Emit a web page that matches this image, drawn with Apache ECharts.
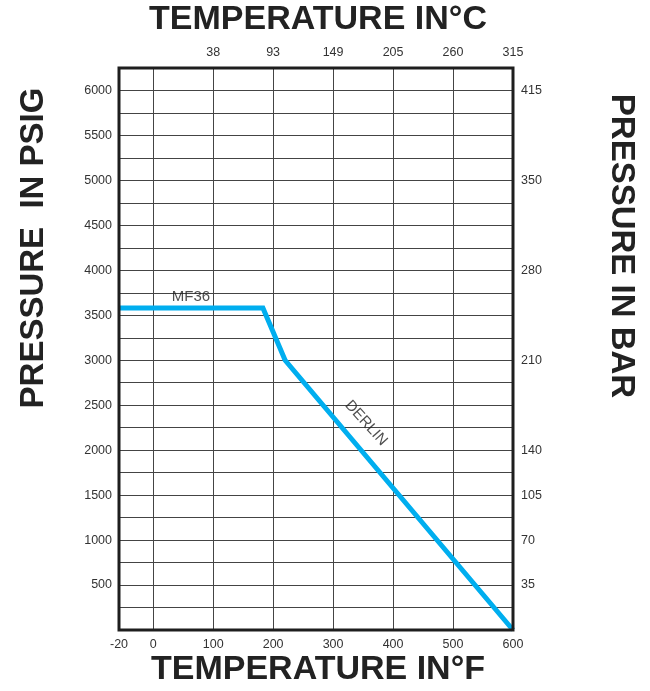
<!DOCTYPE html>
<html><head><meta charset="utf-8">
<script src="https://cdn.jsdelivr.net/npm/echarts@6/dist/echarts.min.js"></script>
<style>html,body{margin:0;padding:0;background:#fff}#c{width:650px;height:691px}</style>
</head><body><div id="c"></div>
<script>
// Scale: left edge of the printed chart is labelled -20 °F (scale is stretched there)
const X_LEFT_EDGE = -57;
const X_MAX = 600;
const Y_MAX = 6250;

// MF36 / DERLIN rating curve (temperature °F, pressure psig)
const tempF = [X_LEFT_EDGE, 183, 220, 600];
const pressurePsi = [3580, 3580, 3000, 0];

// Bottom °F axis
const fTickValues = [X_LEFT_EDGE, 0, 100, 200, 300, 400, 500, 600];
const fTickLabels = ['-20', '0', '100', '200', '300', '400', '500', '600'];
const fGridValues = [0, 100, 200, 300, 400, 500, 600];

// Top °C axis (placed at the matching °F positions)
const cTickValuesF = [100, 200, 300, 400, 500, 600];
const cTickLabels = ['38', '93', '149', '205', '260', '315'];

// Left psig axis
const psiTickValues = [500, 1000, 1500, 2000, 2500, 3000, 3500, 4000, 4500, 5000, 5500, 6000];

// Right bar axis (placed at psig positions)
const barTickValuesPsi = [500, 1000, 1500, 2000, 3000, 4000, 5000, 6000];
const barTickLabels = ['35', '70', '105', '140', '210', '280', '350', '415'];

// Curve annotations
const annotNames = ['MF36', 'DERLIN'];
const annotTempF = [63, 355];
const annotPsi = [3700, 2300];

const chart = echarts.init(document.getElementById('c'), null, {renderer: 'canvas'});
const FONT = 'Liberation Sans, Arial, Helvetica, sans-serif';
const labelStyle = {color: '#333', fontSize: 12.5, fontFamily: FONT};

function mapLabel(values, labels) {
  return function (v) {
    for (let i = 0; i < values.length; i++) if (Math.abs(values[i] - v) < 1e-6) return labels[i];
    return '';
  };
}

chart.setOption({
  animation: false,
  backgroundColor: '#fff',
  grid: {left: 119, right: 137, top: 68, bottom: 61, show: true, borderColor: '#1e1e1e', borderWidth: 3, backgroundColor: 'transparent', z: 5},
  xAxis: [{
    type: 'value', position: 'bottom', min: X_LEFT_EDGE, max: X_MAX,
    axisLine: {show: false},
    axisTick: {show: false, customValues: fGridValues},
    splitLine: {show: true, lineStyle: {color: '#444', width: 1}},
    axisLabel: {customValues: fTickValues, formatter: mapLabel(fTickValues, fTickLabels), margin: 8, ...labelStyle}
  }, {
    type: 'value', position: 'top', min: X_LEFT_EDGE, max: X_MAX,
    axisLine: {show: false},
    axisTick: {show: false, customValues: cTickValuesF},
    splitLine: {show: false},
    axisLabel: {customValues: cTickValuesF, formatter: mapLabel(cTickValuesF, cTickLabels), margin: 9, ...labelStyle}
  }],
  yAxis: [{
    type: 'value', position: 'left', min: 0, max: Y_MAX, interval: 250,
    axisLine: {show: false}, axisTick: {show: false},
    splitLine: {show: true, lineStyle: {color: '#444', width: 1}},
    axisLabel: {customValues: psiTickValues, formatter: mapLabel(psiTickValues, psiTickValues.map(String)), margin: 7, ...labelStyle}
  }, {
    type: 'value', position: 'right', min: 0, max: Y_MAX, interval: 250,
    axisLine: {show: false}, axisTick: {show: false}, splitLine: {show: false},
    axisLabel: {customValues: barTickValuesPsi, formatter: mapLabel(barTickValuesPsi, barTickLabels), margin: 8, ...labelStyle}
  }],
  series: [{
    type: 'line', xAxisIndex: 0, yAxisIndex: 0,
    data: tempF.map((t, i) => [t, pressurePsi[i]]),
    showSymbol: false, symbol: 'none',
    lineStyle: {color: '#00AEEF', width: 5, join: 'miter', cap: 'butt'},
    z: 3, silent: true
  }, {
    type: 'scatter', xAxisIndex: 0, yAxisIndex: 0,
    data: annotNames.map((n, i) => ({name: n, value: [annotTempF[i], annotPsi[i]],
      label: {rotate: i === 1 ? -48 : 0}})),
    symbolSize: 0, silent: true, z: 4,
    label: {show: true, position: 'inside', formatter: '{b}', color: '#222', fontSize: 15, fontFamily: FONT}
  }],
  graphic: [
    {type: 'text', x: 318, y: 20, style: {text: 'TEMPERATURE IN°C', textAlign: 'center', textVerticalAlign: 'middle', fill: '#222', font: 'bold 34px ' + FONT}},
    {type: 'text', x: 318, y: 670, style: {text: 'TEMPERATURE IN°F', textAlign: 'center', textVerticalAlign: 'middle', fill: '#222', font: 'bold 34px ' + FONT}},
    {type: 'text', x: 34, y: 248, rotation: Math.PI / 2, style: {text: 'PRESSURE  IN PSIG', textAlign: 'center', textVerticalAlign: 'middle', fill: '#222', font: 'bold 33px ' + FONT}},
    {type: 'text', x: 621, y: 246, rotation: -Math.PI / 2, style: {text: 'PRESSURE IN BAR', textAlign: 'center', textVerticalAlign: 'middle', fill: '#222', font: 'bold 33px ' + FONT}}
  ]
});
</script></body></html>
